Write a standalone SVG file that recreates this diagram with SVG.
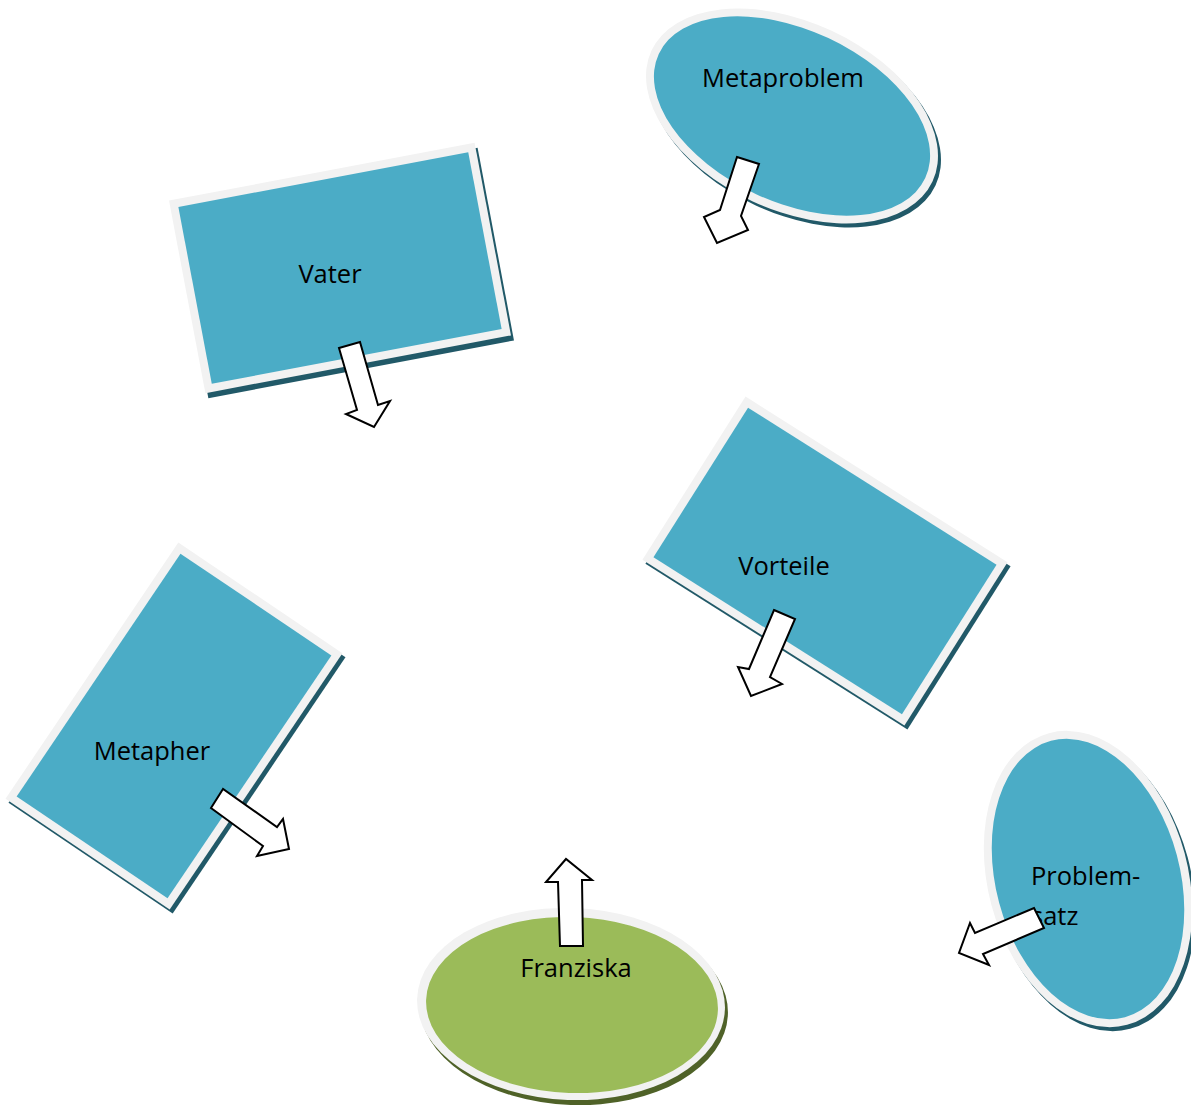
<svg xmlns="http://www.w3.org/2000/svg" width="1191" height="1108" viewBox="0 0 1191 1108">
  <style>
    .shadow { fill: #215968; }
    .shadowG { fill: #4f6228; }
    .border { fill: #f2f2f2; }
    .blue { fill: #4bacc6; }
    .green { fill: #9bbb59; }
    .label { font-family: "Open Sans", "Liberation Sans", sans-serif; font-size: 25.5px; fill: #000; }
    .arrow { fill: #ffffff; stroke: #000000; stroke-width: 2; stroke-linejoin: miter; }
  </style>
  <rect width="1191" height="1108" fill="#ffffff"/>

  <g id="node-metaproblem">
    <ellipse class="shadow" cx="795" cy="120" rx="155" ry="94" transform="rotate(25 795 120)"/>
    <ellipse class="border" cx="792" cy="116" rx="155" ry="94" transform="rotate(25 792 116)"/>
    <ellipse class="blue" cx="792" cy="116" rx="147" ry="86" transform="rotate(25 792 116)"/>
    <text class="label" x="783" y="87" text-anchor="middle">Metaproblem</text>
  </g>

  <g id="node-vater">
    <g transform="translate(343 273) rotate(-10.7)">
      <rect class="shadow" x="-155.5" y="-98" width="311" height="196"/>
    </g>
    <g transform="translate(340 268) rotate(-10.7)">
      <rect class="border" x="-155.5" y="-98" width="311" height="196"/>
      <rect class="blue" x="-147.5" y="-90" width="295" height="180"/>
    </g>
    <text class="label" x="330" y="283" text-anchor="middle">Vater</text>
  </g>

  <g id="node-vorteile">
    <g transform="translate(828 565) rotate(32.3)">
      <rect class="shadow" x="-155" y="-96.5" width="310" height="193"/>
    </g>
    <g transform="translate(825 561) rotate(32.3)">
      <rect class="border" x="-155" y="-96.5" width="310" height="193"/>
      <rect class="blue" x="-147" y="-88.5" width="294" height="177"/>
    </g>
    <text class="label" x="784" y="575" text-anchor="middle">Vorteile</text>
  </g>

  <g id="node-metapher">
    <g transform="translate(177 730) rotate(34)">
      <rect class="shadow" x="-99" y="-154.5" width="198" height="309"/>
    </g>
    <g transform="translate(174 726) rotate(34)">
      <rect class="border" x="-99" y="-154.5" width="198" height="309"/>
      <rect class="blue" x="-91" y="-146.5" width="182" height="293"/>
    </g>
    <text class="label" x="152" y="760" text-anchor="middle">Metapher</text>
  </g>

  <g id="node-franziska">
    <ellipse class="shadowG" cx="574" cy="1009" rx="154" ry="96" transform="rotate(2 574 1009)"/>
    <ellipse class="border" cx="571" cy="1004" rx="154" ry="96" transform="rotate(2 571 1004)"/>
    <ellipse class="green" cx="572" cy="1005" rx="146" ry="88" transform="rotate(2 572 1005)"/>
    <text class="label" x="576" y="977" text-anchor="middle">Franziska</text>
  </g>

  <g id="node-problemsatz">
    <ellipse class="shadow" cx="1091" cy="883" rx="100" ry="151" transform="rotate(-15 1091 883)"/>
    <ellipse class="border" cx="1088" cy="879" rx="100" ry="151" transform="rotate(-15 1088 879)"/>
    <ellipse class="blue" cx="1088" cy="879" rx="92" ry="143" transform="rotate(-15 1088 879)"/>
    <text class="label" x="1031" y="885">Problem-</text>
    <text class="label" x="1031" y="925">satz</text>
  </g>

  <g id="connectors">
    <polygon class="arrow" points="737,157 759,164 741,216 748,230 717,243 704,217 720,210"/>
    <polygon class="arrow" points="339,348 360,342 378,405 390,401 374,427 346,414 357,410"/>
    <polygon class="arrow" points="774,610 795,619 770,677 782,684 751,696 738,667 749,669"/>
    <polygon class="arrow" points="223,789 211,808 263,846 257,856 289,849 283,819 277,827"/>
    <polygon class="arrow" points="560,946 583,946 582,880 592,880 566,859 546,882 558,882"/>
    <polygon class="arrow" points="1034,908 1044,928 983,954 989,965 959,953 970,923 975,933"/>
  </g>
</svg>
